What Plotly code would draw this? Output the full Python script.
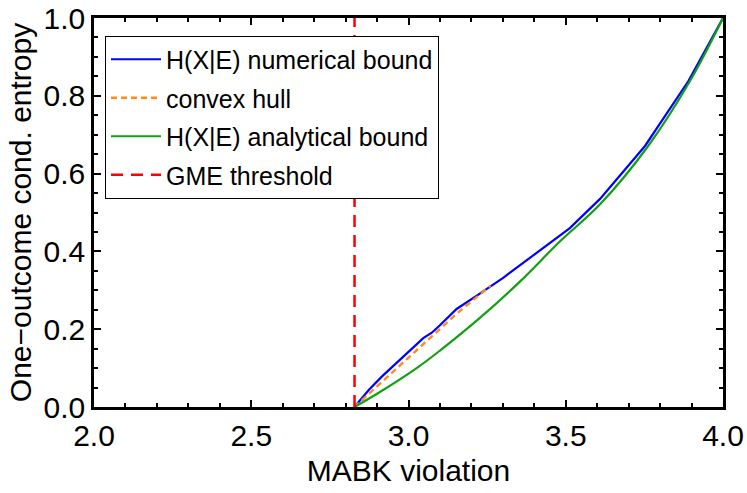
import plotly.graph_objects as go

# GME threshold (2*sqrt(2))
gme_x = 2.8284
gme_y = [0.0, 1.0]

# H(X|E) numerical bound
num_x = [2.828, 2.875, 2.915, 3.0, 3.047, 3.074, 3.1, 3.153, 3.196, 3.222,
         3.301, 3.423, 3.513, 3.609, 3.752, 3.890, 4.0]
num_y = [0.0, 0.045, 0.078, 0.143, 0.177, 0.191, 0.21, 0.252, 0.276, 0.289,
         0.332, 0.405, 0.460, 0.535, 0.671, 0.838, 1.0]

# convex hull
hull_x = [2.828, 3.153, 3.261]
hull_y = [0.0, 0.240, 0.312]

# H(X|E) analytical bound
ana_x = [2.828, 2.9, 3.026, 3.1, 3.227, 3.355, 3.482, 3.609, 3.762, 3.895, 4.0]
ana_y = [0.0, 0.034, 0.100, 0.145, 0.229, 0.323, 0.426, 0.521, 0.671, 0.838, 1.0]

FONT = "Liberation Sans, Arial, sans-serif"

fig = go.Figure()
fig.add_trace(go.Scatter(x=num_x, y=num_y, mode="lines", name="H(X|E) numerical bound",
                         legendgroup="a", line=dict(color="#0000ff", width=2.2)))
fig.add_trace(go.Scatter(x=hull_x, y=hull_y, mode="lines", name="convex hull",
                         legendgroup="b", line=dict(color="#ff8c1a", width=2.4, dash="6px,4px")))
fig.add_trace(go.Scatter(x=ana_x, y=ana_y, mode="lines", name="H(X|E) analytical bound",
                         legendgroup="c", line=dict(color="#10a010", width=2.2, shape="spline")))
fig.add_trace(go.Scatter(x=[gme_x, gme_x], y=gme_y, mode="lines", name="GME threshold",
                         legendgroup="d", line=dict(color="#ff0000", width=2.5, dash="12px,8px")))

axis_common = dict(
    showgrid=False, zeroline=False, showline=True, linecolor="black", linewidth=2.5,
    mirror="ticks", ticks="inside", ticklen=7, tickwidth=2, tickcolor="black",
    tickfont=dict(family=FONT, size=30, color="black"), tickformat=".1f",
    automargin=False,
)
fig.update_xaxes(range=[2, 4], dtick=0.5,
                 minor=dict(dtick=0.1, ticks="inside", ticklen=4, tickwidth=1.5, tickcolor="black"),
                 title=dict(text="MABK violation", font=dict(family=FONT, size=30, color="black"),
                            standoff=10),
                 **axis_common)
fig.update_yaxes(range=[0, 1], dtick=0.2,
                 minor=dict(dtick=0.05, ticks="inside", ticklen=4, tickwidth=1.5, tickcolor="black"),
                 title=dict(text="One\u2212outcome cond. entropy",
                            font=dict(family=FONT, size=30, color="black"), standoff=4),
                 **axis_common)

fig.update_layout(
    width=747, height=493,
    margin=dict(l=94, r=24, t=18, b=86),
    paper_bgcolor="white", plot_bgcolor="white",
    showlegend=True,
    legend=dict(x=0.0175, y=0.955, xanchor="left", yanchor="top",
                bordercolor="black", borderwidth=1, bgcolor="white",
                font=dict(family=FONT, size=25, color="black"),
                tracegroupgap=3, itemwidth=50),
)

fig.write_html("out.html", config={"displayModeBar": False},
               post_script="document.body.style.margin='0';")
